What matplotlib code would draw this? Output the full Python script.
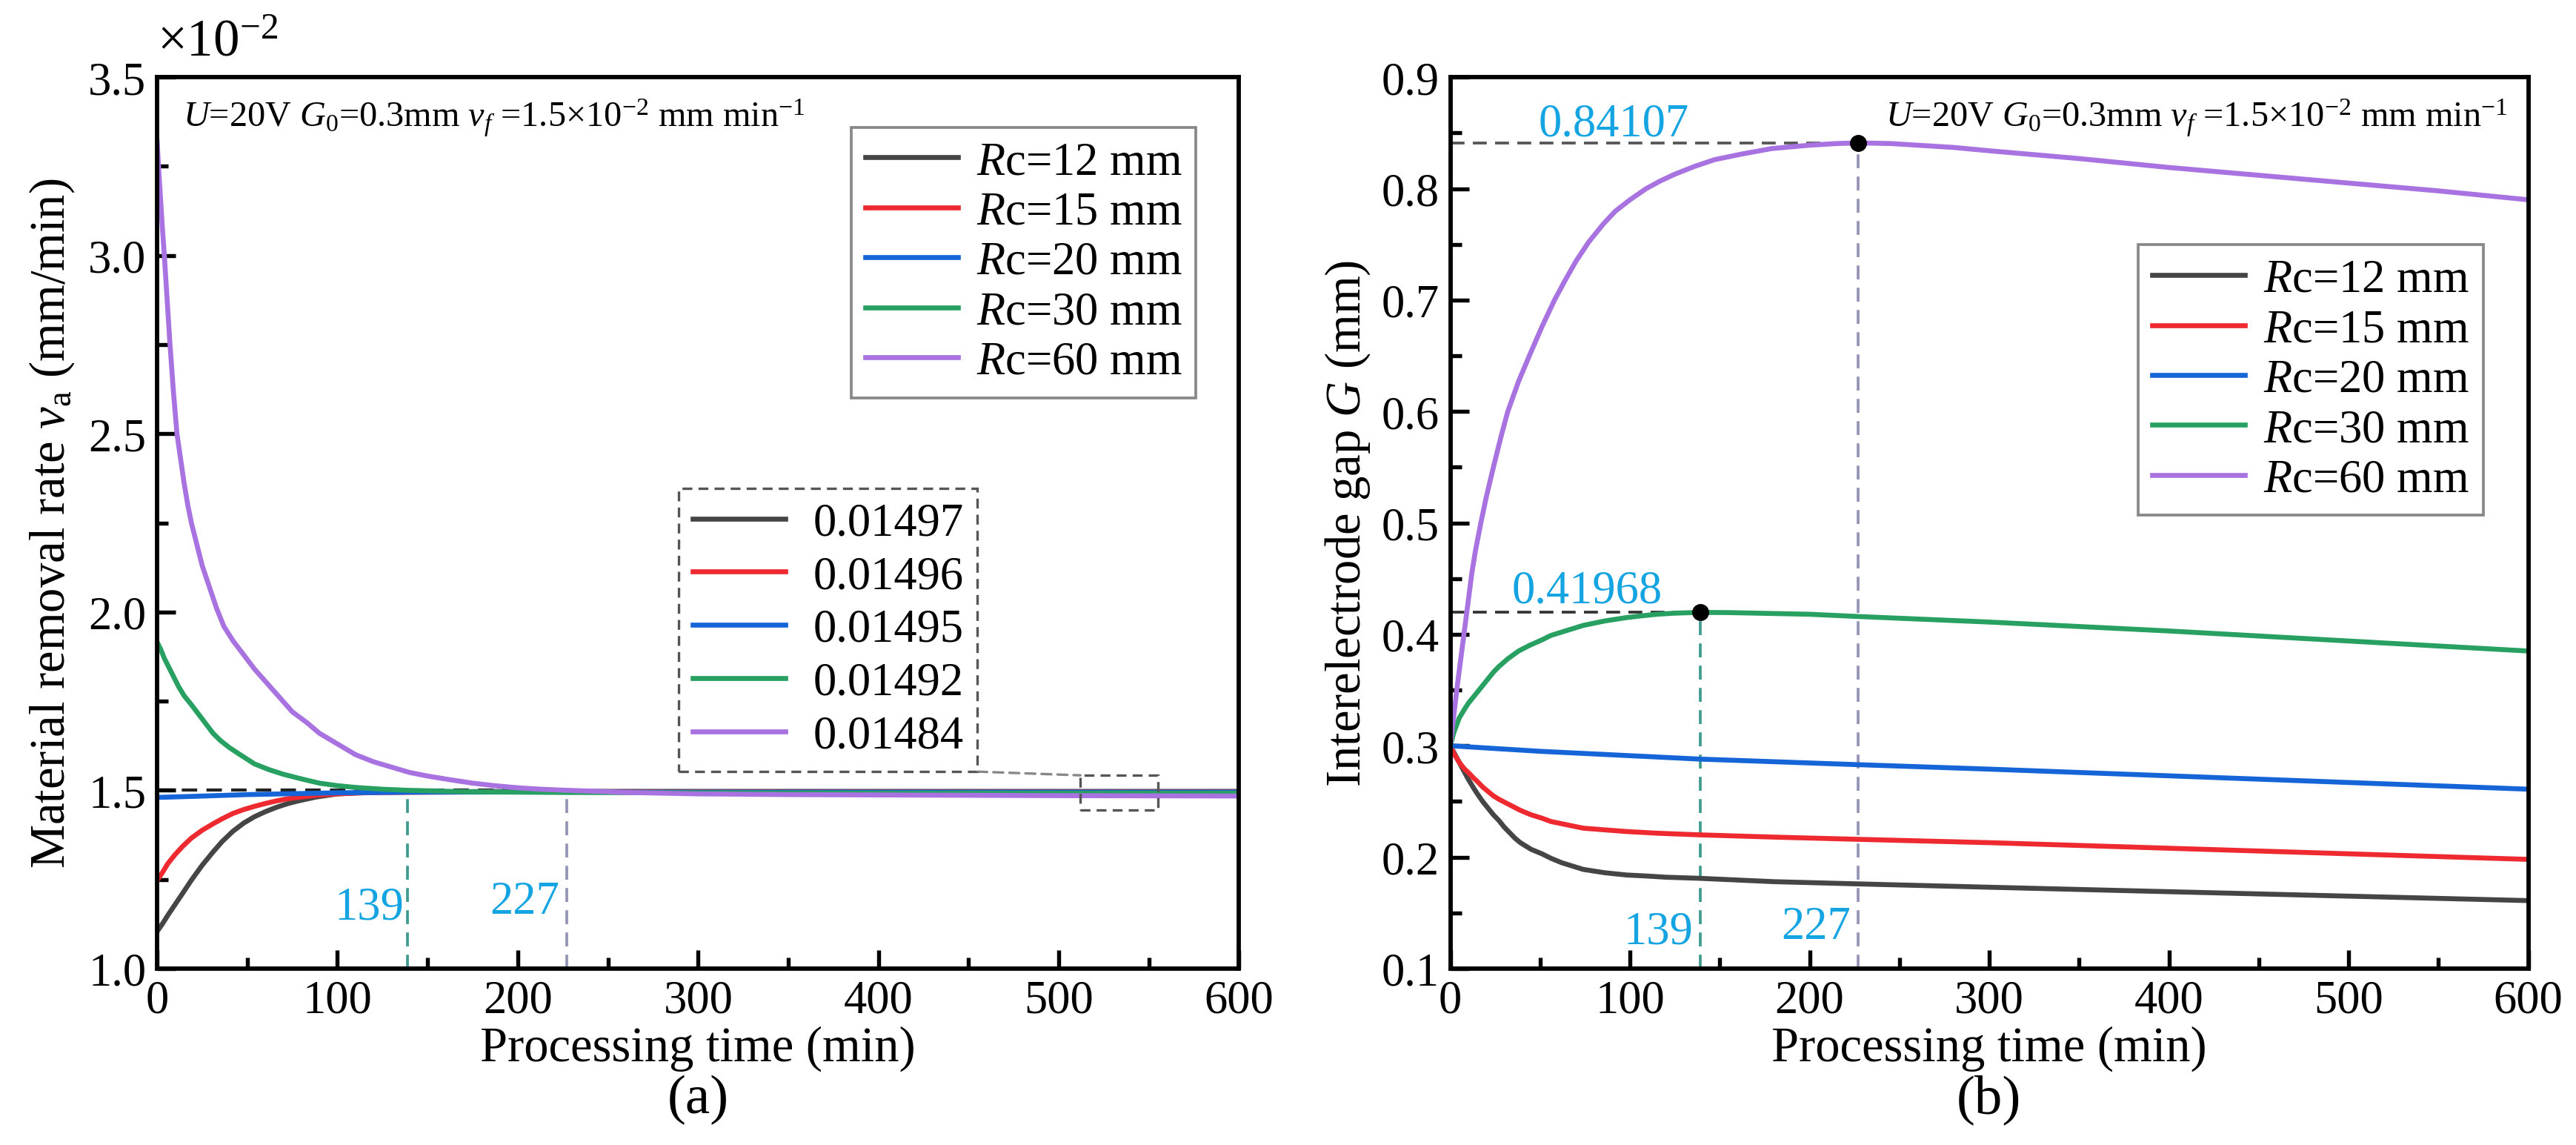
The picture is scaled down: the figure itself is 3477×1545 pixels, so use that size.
import matplotlib
matplotlib.use("Agg")
import matplotlib.pyplot as plt
from matplotlib.patches import Rectangle

plt.rcParams['font.family'] = 'Liberation Serif'
plt.rcParams['mathtext.fontset'] = 'custom'
plt.rcParams['mathtext.rm'] = 'Liberation Serif'
plt.rcParams['mathtext.it'] = 'Liberation Serif:italic'

# ---- data ----
labels = ['$R$c=12 mm', '$R$c=15 mm', '$R$c=20 mm', '$R$c=30 mm', '$R$c=60 mm']
colors = ['#454545', '#ee2a30', '#1565d8', '#27a062', '#a872e0']
final_rates = ['0.01497', '0.01496', '0.01495', '0.01492', '0.01484']

# (a) material removal rate, x10^-2 mm/min
t_va12 = [0, 3, 6, 10, 14, 19, 25, 31, 36, 42, 48, 54, 60, 66, 72, 78, 88, 100, 115, 130, 160, 200, 600]
va12 = [1.104, 1.126, 1.15, 1.18, 1.21, 1.248, 1.29, 1.327, 1.356, 1.385, 1.408, 1.426, 1.44,
        1.452, 1.462, 1.47, 1.481, 1.49, 1.494, 1.495, 1.496, 1.497, 1.497]
t_va15 = [0, 3, 6, 10, 14, 19, 25, 31, 36, 42, 48, 54, 60, 66, 72, 78, 88, 100, 115, 130, 160, 200, 600]
va15 = [1.247, 1.27, 1.295, 1.32, 1.342, 1.366, 1.388, 1.406, 1.42, 1.435, 1.446, 1.455, 1.463,
        1.47, 1.476, 1.48, 1.486, 1.49, 1.493, 1.494, 1.495, 1.496, 1.496]
t_va20 = [0, 20, 50, 100, 150, 300, 600]
va20 = [1.48, 1.483, 1.488, 1.493, 1.495, 1.495, 1.495]
t_va30 = [0, 2, 4, 6, 8, 10, 12, 15, 19, 22, 25, 28, 31, 35, 40, 46, 54, 62, 70, 80, 90, 100,
          110, 125, 139, 155, 170, 200, 227, 300, 400, 600]
va30 = [1.916, 1.895, 1.87, 1.85, 1.83, 1.81, 1.79, 1.765, 1.74, 1.72, 1.70, 1.68, 1.66, 1.64,
        1.62, 1.60, 1.574, 1.558, 1.545, 1.532, 1.52, 1.513, 1.508, 1.503, 1.50, 1.498, 1.496,
        1.495, 1.494, 1.493, 1.492, 1.492]
t_va60 = [0, 1, 2, 3, 4, 5, 6, 7, 8, 9, 10, 11, 13, 15, 17, 19, 22, 25, 29, 33, 37, 42, 48, 54,
          61, 68, 75, 83, 90, 100, 110, 120, 130, 140, 150, 162, 175, 187, 200, 213, 227, 245,
          260, 280, 300, 350, 400, 500, 600]
va60 = [3.32, 3.23, 3.15, 3.07, 3.00, 2.92, 2.84, 2.76, 2.69, 2.62, 2.56, 2.50, 2.43, 2.36, 2.30,
        2.25, 2.19, 2.13, 2.07, 2.01, 1.96, 1.92, 1.88, 1.84, 1.80, 1.76, 1.72, 1.69, 1.66, 1.63,
        1.60, 1.58, 1.565, 1.55, 1.54, 1.53, 1.52, 1.513, 1.507, 1.503, 1.50, 1.497, 1.494,
        1.492, 1.49, 1.488, 1.487, 1.485, 1.484]

# (b) interelectrode gap, mm
t_g12 = [0, 3, 5, 8, 10, 13, 15, 18, 21, 24, 27, 30, 33, 36, 39, 42, 45, 48, 51, 56, 62, 68, 74,
         80, 86, 92, 98, 110, 120, 139, 180, 227, 300, 400, 500, 600]
g12 = [0.30, 0.291, 0.285, 0.276, 0.27, 0.262, 0.257, 0.25, 0.244, 0.238, 0.233, 0.227, 0.222,
       0.217, 0.213, 0.21, 0.207, 0.205, 0.203, 0.199, 0.195, 0.192, 0.189, 0.1875, 0.186, 0.185,
       0.184, 0.183, 0.182, 0.181, 0.178, 0.176, 0.173, 0.169, 0.165, 0.161]
t_g15 = [0, 2, 5, 8, 10, 13, 15, 18, 21, 24, 27, 33, 39, 45, 51, 56, 62, 68, 74, 86, 98, 115,
         139, 180, 227, 300, 400, 500, 600]
g15 = [0.30, 0.293, 0.285, 0.279, 0.276, 0.271, 0.268, 0.263, 0.259, 0.255, 0.252, 0.247, 0.242,
       0.238, 0.235, 0.232, 0.230, 0.228, 0.226, 0.2245, 0.223, 0.2215, 0.220, 0.218, 0.216,
       0.213, 0.208, 0.203, 0.198]
t_g20 = [0, 50, 139, 227, 300, 400, 500, 600]
g20 = [0.30, 0.295, 0.288, 0.283, 0.279, 0.273, 0.267, 0.261]
t_g30 = [0, 2, 5, 8, 10, 13, 15, 18, 21, 24, 27, 32, 38, 44, 51, 56, 62, 68, 74, 80, 86, 92, 98,
         106, 115, 125, 139, 155, 170, 200, 227, 300, 400, 500, 600]
g30 = [0.30, 0.312, 0.325, 0.333, 0.338, 0.344, 0.348, 0.354, 0.36, 0.366, 0.371, 0.378, 0.385,
       0.39, 0.395, 0.399, 0.402, 0.405, 0.408, 0.41, 0.412, 0.4135, 0.415, 0.4165, 0.418, 0.419,
       0.41968, 0.4195, 0.419, 0.418, 0.416, 0.411, 0.403, 0.394, 0.385]
t_g60 = [0, 2, 4, 6, 8, 10, 12, 14, 17, 20, 24, 28, 32, 38, 44, 51, 58, 64, 70, 77, 85, 92, 100,
         109, 117, 125, 136, 147, 162, 179, 200, 215, 227, 245, 260, 280, 300, 350, 400, 450,
         500, 550, 600]
g60 = [0.30, 0.328, 0.355, 0.38, 0.405, 0.43, 0.455, 0.475, 0.50, 0.523, 0.55, 0.576, 0.60,
       0.627, 0.65, 0.676, 0.70, 0.718, 0.735, 0.752, 0.768, 0.78, 0.79, 0.80, 0.807, 0.813,
       0.82, 0.826, 0.831, 0.836, 0.839, 0.8405, 0.84107, 0.8405, 0.839, 0.837, 0.834, 0.827,
       0.819, 0.812, 0.805, 0.798, 0.790]

t_steady = [139, 227]
peaks_g = [0.41968, 0.84107]

va_series = [(t_va12, va12), (t_va15, va15), (t_va20, va20), (t_va30, va30), (t_va60, va60)]
g_series = [(t_g12, g12), (t_g15, g15), (t_g20, g20), (t_g30, g30), (t_g60, g60)]

cyan = '#14a4e2'
teal = '#3e9c8e'
lilac = '#9494b4'
annot = '$U$=20V $G_\\mathrm{0}$=0.3mm $v_f$ =1.5×10$^{-2}$ mm min$^{-1}$'


def style_axes(ax):
    for s in ax.spines.values():
        s.set_linewidth(1.4)
    ax.tick_params(which='both', direction='in', labelsize=15, width=1.3)
    ax.tick_params(which='major', length=6)
    ax.tick_params(which='minor', length=3.5)
    ax.set_xlim(0, 600)
    ax.set_xticks(range(0, 601, 100))
    ax.set_xticks(range(50, 600, 100), minor=True)
    ax.set_xlabel('Processing time (min)', fontsize=16, labelpad=1)


leg_kw = dict(fontsize=15, frameon=True, fancybox=False, edgecolor='#888888', framealpha=1,
              handlelength=2.0, handletextpad=0.4, labelspacing=0.15, borderpad=0.3,
              borderaxespad=0)

fig = plt.figure(figsize=(11.59, 5.153), dpi=300)
ax1 = fig.add_axes([0.061, 0.154, 0.420, 0.778])
ax2 = fig.add_axes([0.563, 0.154, 0.4185, 0.778])

# ---------------- (a) ----------------
ax1.plot([0, t_steady[1]], [1.5, 1.5], ls='--', color='#222222', lw=1.0, dashes=(5, 3), zorder=1)
ax1.plot([t_steady[0]] * 2, [1.0, 1.5], ls='--', color=teal, lw=0.9, dashes=(5, 3), zorder=1)
ax1.plot([t_steady[1]] * 2, [1.0, 1.5], ls='--', color=lilac, lw=0.9, dashes=(5, 3), zorder=1)
lines1 = []
for (t, v), c, lab in zip(va_series, colors, labels):
    ln, = ax1.plot(t, v, color=c, lw=1.6, label=lab, zorder=2)
    lines1.append(ln)
style_axes(ax1)
ax1.set_ylim(1.0, 3.5)
ax1.set_yticks([1.0, 1.5, 2.0, 2.5, 3.0, 3.5])
ax1.set_yticklabels(['1.0', '1.5', '2.0', '2.5', '3.0', '3.5'])
ax1.set_yticks([1.25, 1.75, 2.25, 2.75, 3.25], minor=True)
ax1.set_ylabel('Material removal rate $v_\\mathrm{a}$ (mm/min)', fontsize=16, labelpad=4)
ax1.text(0.0, 1.012, '×10$^{-2}$', transform=ax1.transAxes, fontsize=17, ha='left', va='bottom')
ax1.text(0.024, 0.978, annot, transform=ax1.transAxes, fontsize=11.6, ha='left', va='top')
ax1.text(t_steady[0] - 2, 1.14, '139', color=cyan, fontsize=15, ha='right', va='baseline')
ax1.text(t_steady[1] - 4, 1.155, '227', color=cyan, fontsize=15, ha='right', va='baseline')

leg1 = ax1.legend(loc='upper right', bbox_to_anchor=(0.96, 0.944), **leg_kw)
leg1.get_frame().set_linewidth(0.9)
ax1.add_artist(leg1)
inset_kw = dict(leg_kw, edgecolor='#555555', handletextpad=0.6, labelspacing=0.22, borderpad=0.3)
leg1b = ax1.legend(lines1, final_rates, loc='upper left', bbox_to_anchor=(0.482, 0.539), **inset_kw)
leg1b.get_frame().set_linestyle((0, (4, 2.5)))
leg1b.get_frame().set_linewidth(0.8)
ax1.add_patch(Rectangle((512, 1.445), 43, 0.097, fill=False, ls=(0, (4, 2.5)),
                        ec='#555555', lw=0.8, zorder=3))

# ---------------- (b) ----------------
ax2.plot([0, t_steady[1]], [peaks_g[1]] * 2, ls='--', color='#555555', lw=0.9, dashes=(5, 3), zorder=1)
ax2.plot([0, t_steady[0]], [peaks_g[0]] * 2, ls='--', color='#333333', lw=0.9, dashes=(5, 3), zorder=1)
ax2.plot([t_steady[0]] * 2, [0.1, peaks_g[0]], ls='--', color=teal, lw=0.9, dashes=(5, 3), zorder=1)
ax2.plot([t_steady[1]] * 2, [0.1, peaks_g[1]], ls='--', color=lilac, lw=0.9, dashes=(5, 3), zorder=1)
for (t, g), c, lab in zip(g_series, colors, labels):
    ax2.plot(t, g, color=c, lw=1.6, label=lab, zorder=2)
ax2.plot(t_steady, peaks_g, 'o', color='black', ms=4.5, zorder=4)
style_axes(ax2)
ax2.set_ylim(0.1, 0.9)
ax2.set_yticks([0.1, 0.2, 0.3, 0.4, 0.5, 0.6, 0.7, 0.8, 0.9])
ax2.set_yticks([0.15, 0.25, 0.35, 0.45, 0.55, 0.65, 0.75, 0.85], minor=True)
ax2.set_ylabel('Interelectrode gap $G$ (mm)', fontsize=16, labelpad=3)
ax2.text(0.981, 0.978, annot, transform=ax2.transAxes, fontsize=11.6, ha='right', va='top')
ax2.text(91, 0.848, '0.84107', color=cyan, fontsize=15, ha='center', va='baseline')
ax2.text(76, 0.429, '0.41968', color=cyan, fontsize=15, ha='center', va='baseline')
ax2.text(t_steady[0] - 4, 0.123, '139', color=cyan, fontsize=15, ha='right', va='baseline')
ax2.text(t_steady[1] - 4, 0.127, '227', color=cyan, fontsize=15, ha='right', va='baseline')
leg2 = ax2.legend(loc='upper right', bbox_to_anchor=(0.958, 0.812), **leg_kw)
leg2.get_frame().set_linewidth(0.9)

fig.text(0.061 + 0.210, 0.018, '(a)', fontsize=18, ha='center', va='bottom')
fig.text(0.563 + 0.209, 0.018, '(b)', fontsize=18, ha='center', va='bottom')

# dashed connector from the inset legend corner to the zoom box
fig.canvas.draw()
bb = leg1b.get_window_extent().transformed(ax1.transAxes.inverted())
ax1.annotate('', xy=(512, 1.542), xycoords='data', xytext=(bb.x1, bb.y0),
             textcoords='axes fraction',
             arrowprops=dict(arrowstyle='-', ls=(0, (4, 2.5)), color='#888888', lw=0.8,
                             shrinkA=0, shrinkB=0))

fig.savefig('out.png', dpi=300)
